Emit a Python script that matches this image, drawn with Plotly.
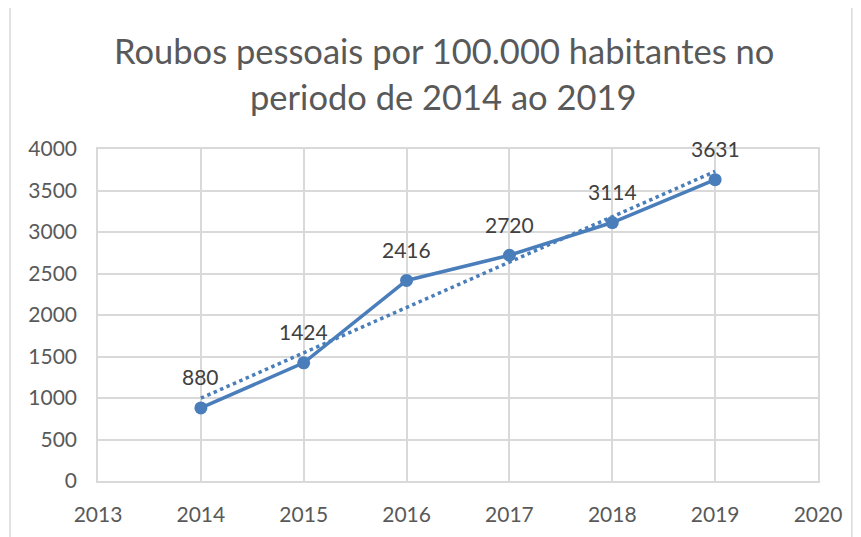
import numpy as np
import plotly.graph_objects as go

anos = [2014, 2015, 2016, 2017, 2018, 2019]
roubos = [880, 1424, 2416, 2720, 3114, 3631]
x_ticks = [2013, 2014, 2015, 2016, 2017, 2018, 2019, 2020]
y_ticks = [0, 500, 1000, 1500, 2000, 2500, 3000, 3500, 4000]
titulo = ['Roubos pessoais por 100.000 habitantes no', 'periodo de 2014 ao 2019']

azul = '#4A7EBB'
cinza = '#595959'

# linha de tendencia linear (como no Excel)
coef = np.polyfit(anos, roubos, 1)
tendencia = np.polyval(coef, anos)

fig = go.Figure()
fig.add_trace(go.Scatter(x=anos, y=tendencia, mode='lines',
                         line=dict(color=azul, width=3.5, dash='dot'),
                         hoverinfo='skip'))
fig.add_trace(go.Scatter(x=anos, y=roubos, mode='lines+markers',
                         line=dict(color=azul, width=3.5),
                         marker=dict(color=azul, size=13)))

# rotulos de dados acima dos pontos
for a, v in zip(anos, roubos):
    fig.add_annotation(x=a, y=v, text=str(v), showarrow=False, yshift=31,
                       font=dict(size=21, color='#404040', family='Lato'))

# titulo em duas linhas
for linha, yp in zip(titulo, [1.298, 1.157]):
    fig.add_annotation(x=0.480, y=yp, xref='paper', yref='paper', text=linha,
                       showarrow=False, xanchor='center', yanchor='middle',
                       font=dict(size=34.5, color=cinza, family='Lato'))

fig.update_layout(
    width=853, height=529,
    margin=dict(l=90, r=43, t=141, b=56),
    paper_bgcolor='white', plot_bgcolor='white',
    showlegend=False,
    font=dict(family='Lato', color=cinza),
    xaxis=dict(range=[2013, 2020], tickvals=x_ticks, showgrid=True, gridcolor='#D9D9D9',
               gridwidth=1.5, zeroline=False, showline=True, linecolor='#D9D9D9', linewidth=1.5,
               mirror=True, tickfont=dict(size=21, color=cinza), ticks='', ticklabelstandoff=14),
    yaxis=dict(range=[0, 4000], tickvals=y_ticks, showgrid=True, gridcolor='#D9D9D9',
               gridwidth=1.5, zeroline=False, showline=True, linecolor='#D9D9D9', linewidth=1.5,
               mirror=True, tickfont=dict(size=21, color=cinza), ticks='', ticklabelstandoff=15),
)

# moldura do grafico
fig.add_shape(type='rect', xref='paper', yref='paper', x0=-0.1222, x1=1.047, y0=-0.2, y1=1.4277,
              line=dict(color='#D9D9D9', width=1.5), layer='below')

fig.write_html('out.html')
